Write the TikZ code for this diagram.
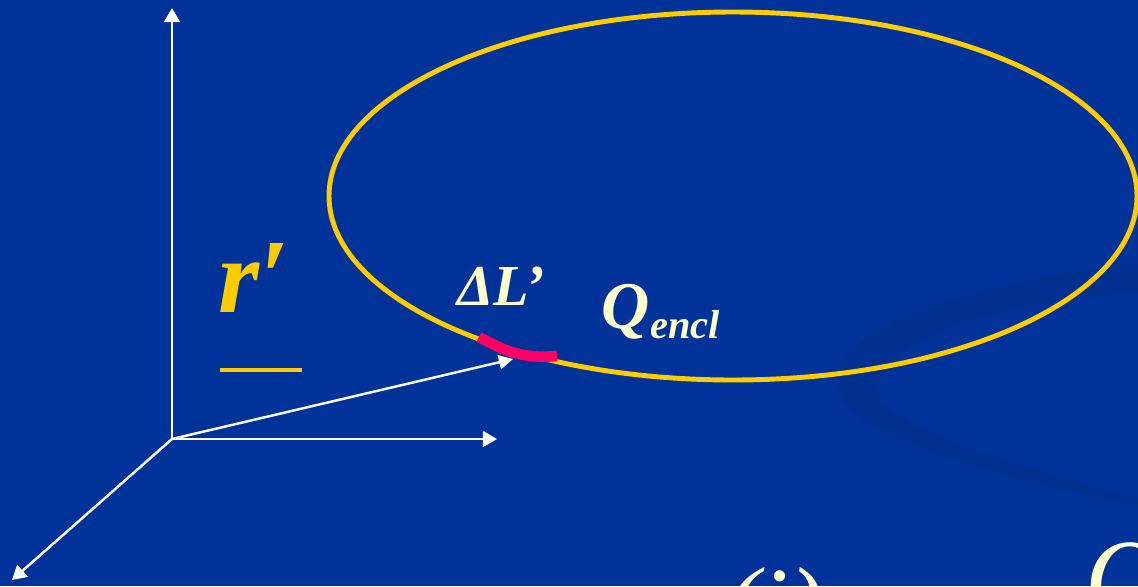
\documentclass[tikz,border=0pt]{standalone}
\usepackage{fontspec}
\setmainfont{Liberation Serif}
\usetikzlibrary{arrows.meta}

\definecolor{slideblue}{HTML}{003399}
\definecolor{shadowblue}{HTML}{003190}
\definecolor{loopyellow}{HTML}{FFCC00}
\definecolor{creamtext}{HTML}{FFFFCC}
\definecolor{segpink}{HTML}{FF0066}

\begin{document}
\begin{tikzpicture}
[
	x=0.02cm, y=-0.02cm,
	axis/.style={white,line width=1.4pt,-{Triangle[width=9pt,length=8pt]}},
	loopline/.style={draw=loopyellow,line width=2.8pt},
	bigtext/.style={inner sep=0pt,font=\fontsize{#1}{#1}\selectfont\bfseries\itshape},
]

	% background
	\fill[slideblue] (0,0) rectangle (1138,586);
	\useasboundingbox (0,0) rectangle (1138,586);
	\clip (0,0) rectangle (1138,586);

	% faint swoosh
	\fill[shadowblue]
	  (1138,262) .. controls (950,285) and (830,330) .. (838,388)
	  .. controls (848,440) and (1000,475) .. (1138,508)
	  -- (1138,498) .. controls (1010,462) and (872,425) .. (878,388)
	  .. controls (884,335) and (1000,305) .. (1138,292) -- cycle;

	% axes
	\coordinate (O) at (172,439);
	\coordinate (zend) at (172,8);
	\coordinate (yend) at (497,439);
	\coordinate (xend) at (12,580);
	\draw[axis] (O) -- (zend);
	\draw[axis] (O) -- (yend);
	\draw[axis] (O) -- (xend);

	% loop
	\draw[loopline] (733,196) ellipse (404 and 184);

	% line element
	\coordinate (dlstart) at (479,337);
	\coordinate (dlend) at (557,356);
	\draw[segpink,line width=6pt]
	  (dlstart) .. controls (505,351) and (522,359) .. (dlend);

	% position vector
	\coordinate (rtip) at (513,359);
	\draw[white,line width=1.4pt,-{Triangle[width=8pt,length=8pt]}] (O) -- (rtip);

	% labels
	\node[bigtext=60,text=loopyellow,anchor=base west] (rlabel) at (218,312) {r′};
	\draw[loopyellow,line width=2.4pt] (220,370) -- (302,370);

	\node[bigtext=33,text=creamtext,anchor=base west] (dL) at (457,305) {ΔL’};

	\node[bigtext=38,text=creamtext,anchor=base west] (qlabel) at (601,328) {Q};
	\node[bigtext=23,text=creamtext,anchor=base west] (encl)
	  at ([yshift=-6pt]qlabel.base east) {encl};

	% equation below (cut off)
	\node[inner sep=0pt,font=\fontsize{60}{60}\selectfont\itshape,text=creamtext,anchor=base west]
	  (eqa) at (724,640) {(i)};
	\node[inner sep=0pt,font=\fontsize{60}{60}\selectfont\itshape,text=creamtext,anchor=base west]
	  (eqb) at (1085,612) {Q};

\end{tikzpicture}
\end{document}
